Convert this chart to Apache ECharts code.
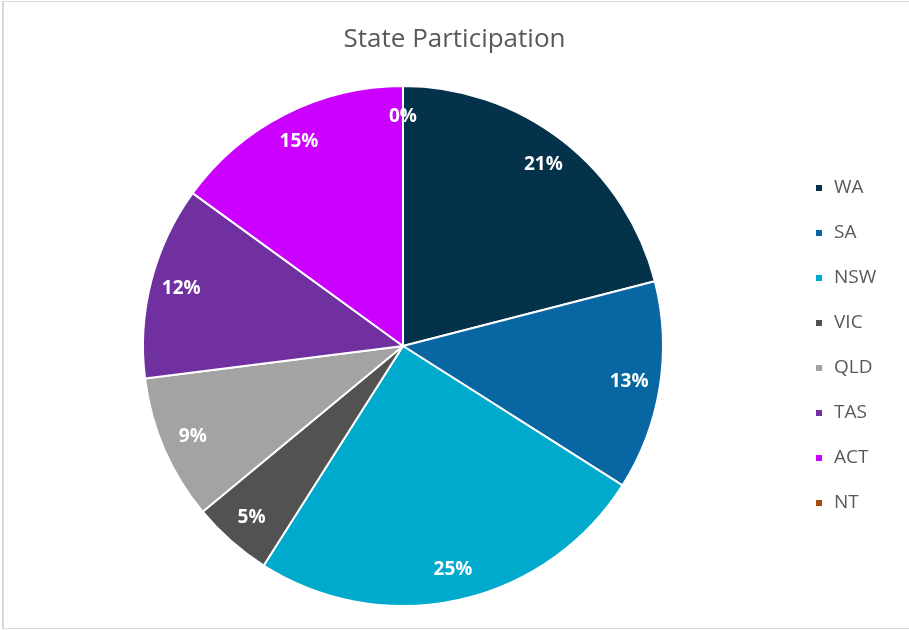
<!DOCTYPE html>
<html>
<head>
<meta charset="utf-8">
<script src="https://cdn.jsdelivr.net/npm/echarts@6/dist/echarts.min.js"></script>
<style>
  html, body { margin: 0; padding: 0; background: #fff; }
  #wrap { position: relative; width: 909px; height: 630px; }
  #chart { position: absolute; left: 0; top: 0; width: 909px; height: 630px; }
  .edge { position: absolute; background: #d9d9d9; }
</style>
</head>
<body>
<div id="wrap">
  <div id="chart"></div>
  <div class="edge" style="left:2px;top:1px;width:907px;height:1px"></div>
  <div class="edge" style="left:2px;top:1px;width:2px;height:628px"></div>
  <div class="edge" style="left:2px;top:628px;width:907px;height:1px"></div>
</div>
<script>
// state participation, percent of total
const states = ["WA", "SA", "NSW", "VIC", "QLD", "TAS", "ACT", "NT"];
const shares = [21, 13, 25, 5, 9, 12, 15, 0];
const colors = ["#04324a", "#0866a3", "#00aacd", "#525252", "#a3a3a3", "#7030a0", "#cc00ff", "#a8480f"];

const chart = echarts.init(document.getElementById("chart"));

const slices = states.map((s, i) => ({ name: s, value: shares[i] }));

chart.setOption({
  animation: false,
  color: colors,
  title: {
    text: "State Participation",
    left: "center",
    top: 22,
    textStyle: { fontFamily: "Open Sans", fontSize: 26, fontWeight: "normal", color: "#595959" },
  },
  legend: {
    orient: "vertical",
    left: 809,
    top: 173,
    data: states,
    icon: "rect",
    itemWidth: 8,
    itemHeight: 8,
    itemGap: 25,
    textStyle: { fontFamily: "Open Sans", fontSize: 19, color: "#595959", lineHeight: 20, padding: [0, 0, 0, 6] },
  },
  series: [
    {
      type: "pie",
      center: [403, 346],
      radius: [0, 260],
      data: slices,
      label: { show: false },
      labelLine: { show: false },
      itemStyle: { borderColor: "#fff", borderWidth: 2 },
      silent: true,
    },
    {
      // overlay ring just to place labels near the outer edge
      type: "pie",
      center: [403, 346],
      radius: [198, 254],
      data: slices,
      itemStyle: { color: "transparent" },
      label: {
        show: true,
        position: "inside",
        formatter: "{c}%",
        fontFamily: "Open Sans",
        fontSize: 19,
        fontWeight: "bold",
        color: "#fff",
      },
      labelLine: { show: false },
      silent: true,
    },
  ],
});
</script>
</body>
</html>
